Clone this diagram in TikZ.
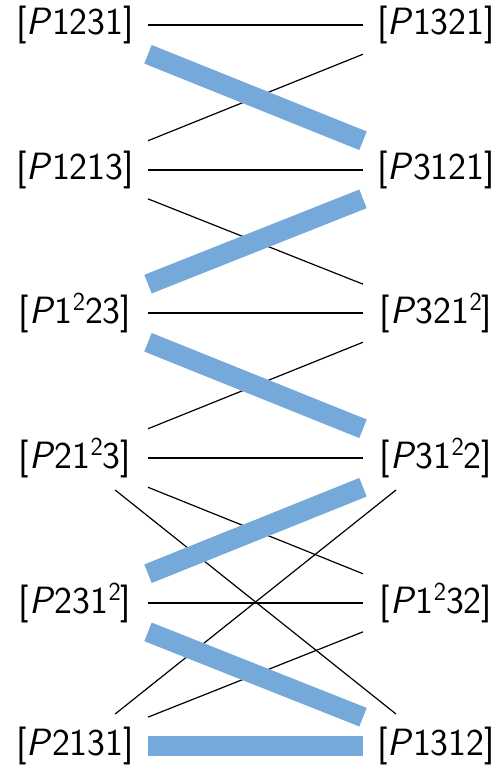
\documentclass[tikz,border=0pt]{standalone}
\definecolor{thickblue}{RGB}{116,169,217}
\newcommand{\supsq}{\raisebox{13pt}{\fontsize{26}{26}\selectfont 2}}
\begin{document}
\begin{tikzpicture}[x=1pt,y=-1pt,
  lbl/.style={minimum width=146pt, minimum height=64pt, inner sep=0pt, outer sep=0pt,
    font=\fontsize{38}{44}\selectfont\sffamily},
  edgethin/.style={draw=black, line width=1.2pt},
  edgethick/.style={draw=thickblue, line width=20pt}]
\useasboundingbox (0,0) rectangle (498,765);
\def\lx{75}\def\rx{436}
\node[lbl] (L0) at (\lx,25)  {[\textsl{P}1231]};
\node[lbl] (L1) at (\lx,170) {[\textsl{P}1213]};
\node[lbl] (L2) at (\lx,313) {[\textsl{P}1\supsq23]};
\node[lbl] (L3) at (\lx,458) {[\textsl{P}21\supsq3]};
\node[lbl] (L4) at (\lx,603) {[\textsl{P}231\supsq]};
\node[lbl] (L5) at (\lx,746) {[\textsl{P}2131]};
\node[lbl] (R0) at (\rx,25)  {[\textsl{P}1321]};
\node[lbl] (R1) at (\rx,170) {[\textsl{P}3121]};
\node[lbl] (R2) at (\rx,313) {[\textsl{P}321\supsq]};
\node[lbl] (R3) at (\rx,458) {[\textsl{P}31\supsq2]};
\node[lbl] (R4) at (\rx,603) {[\textsl{P}1\supsq32]};
\node[lbl] (R5) at (\rx,746) {[\textsl{P}1312]};
% thin connectors
\draw[edgethin] (L0) -- (R0);
\draw[edgethin] (L1) -- (R0);
\draw[edgethin] (L1) -- (R1);
\draw[edgethin] (L1) -- (R2);
\draw[edgethin] (L2) -- (R2);
\draw[edgethin] (L3) -- (R2);
\draw[edgethin] (L3) -- (R3);
\draw[edgethin] (L3) -- (R4);
\draw[edgethin] (L3) -- (R5);
\draw[edgethin] (L4) -- (R4);
\draw[edgethin] (L5) -- (R3);
\draw[edgethin] (L5) -- (R4);
% thick connectors
\draw[edgethick] (L0) -- (R1);
\draw[edgethick] (L2) -- (R1);
\draw[edgethick] (L2) -- (R3);
\draw[edgethick] (L4) -- (R3);
\draw[edgethick] (L4) -- (R5);
\draw[edgethick] (L5) -- (R5);
\end{tikzpicture}
\end{document}
